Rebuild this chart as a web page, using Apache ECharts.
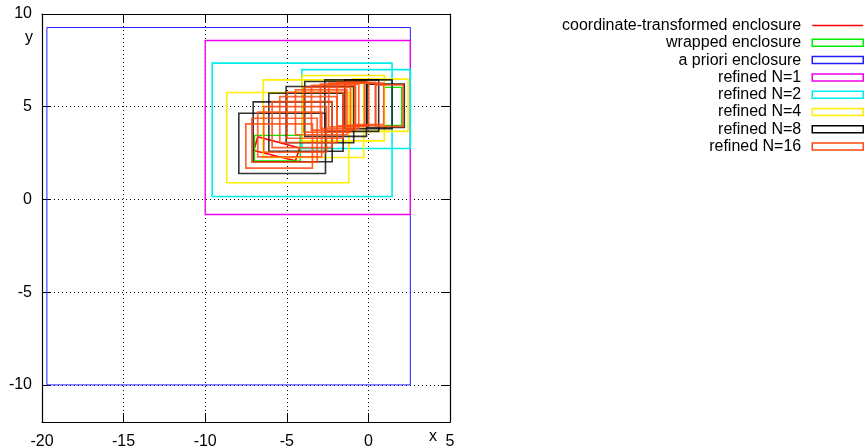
<!DOCTYPE html>
<html>
<head>
<meta charset="utf-8">
<script src="https://cdn.jsdelivr.net/npm/echarts@6/dist/echarts.min.js"></script>
<style>html,body{margin:0;padding:0;background:#fff}#c{width:865px;height:447px}</style>
</head>
<body>
<div id="c"></div>
<script>
const xTicks = [-20, -15, -10, -5, 0, 5];
const yTicks = [-10, -5, 0, 5, 10];
const seriesNames = ['coordinate-transformed enclosure', 'wrapped enclosure', 'a priori enclosure',
  'refined N=1', 'refined N=2', 'refined N=4', 'refined N=8', 'refined N=16'];
// polygon corners x1,y1,...,x4,y4
const transformedQuads = [[-6.78, 3.38, -4.21, 2.77, -4.47, 2.09, -7.02, 2.64]];
// boxes: xmin, ymin, xmax, ymax
const wrappedBoxes = [[-6.98, 2.08, -4.18, 3.45], [0.98, 3.99, 2.04, 6.04]];
const aprioriBoxes = [[-19.7, -10, 2.57, 9.27]];
const refined1 = [[-10, -0.81, 2.57, 8.57]];
const refined2 = [[-9.57, 0.16, 1.45, 7.35], [-4.08, 2.75, 2.57, 7.0]];
const refined4 = [[-8.68, 0.9, -1.2, 5.77], [-6.45, 2.26, -0.29, 6.45], [-4.06, 3.16, 0.98, 6.68], [-1.0, 3.67, 2.43, 6.49]];
const refined8 = [[-7.94, 1.40, -2.63, 4.65], [-7.06, 2.03, -2.22, 5.26], [-6.1, 2.6, -1.55, 5.73], [-5.04, 3.06, -0.9, 6.09],
  [-3.9, 3.40, -0.12, 6.36], [-2.67, 3.67, 0.63, 6.45], [-1.45, 3.81, 1.45, 6.45], [-0.08, 3.88, 2.2, 6.22]];
const refined16 = [[-7.51, 1.69, -3.43, 4.08], [-7.14, 2.01, -3.14, 4.38], [-6.78, 2.30, -2.86, 4.71], [-6.41, 2.55, -2.57, 5.01],
  [-5.90, 2.80, -2.22, 5.28], [-5.43, 3.07, -1.92, 5.55], [-4.98, 3.30, -1.55, 5.78], [-4.47, 3.49, -1.31, 5.91],
  [-3.96, 3.63, -1.10, 6.04], [-3.49, 3.74, -0.80, 6.15], [-2.94, 3.84, -0.59, 6.22], [-2.43, 3.92, -0.24, 6.27],
  [-1.92, 3.97, 0.02, 6.31], [-1.41, 3.99, 0.43, 6.32], [-0.80, 4.03, 0.94, 6.27], [0.45, 3.94, 2.12, 6.18]];

const colors = ['#ff0000', '#00ee00', '#2020ff', '#ee00ee', '#00eeee', '#ffee00', '#000000', '#ff4a10'];
const widths = [1.6, 1.3, 1, 1.3, 1.6, 1.6, 1.6, 1.7];
const FONT = 'Liberation Sans, Arial, Helvetica, sans-serif';
const FS = 16;

function boxSeries(name, data, color, lw, opacity) {
  return {
    type: 'custom', name: name, data: data, z: 3,
    encode: {x: [0, 2], y: [1, 3]},
    itemStyle: {color: color},
    renderItem: function (params, api) {
      const p1 = api.coord([api.value(0), api.value(1)]);
      const p2 = api.coord([api.value(2), api.value(3)]);
      return {
        type: 'rect',
        shape: {x: Math.min(p1[0], p2[0]), y: Math.min(p1[1], p2[1]),
          width: Math.abs(p2[0] - p1[0]), height: Math.abs(p2[1] - p1[1])},
        style: {fill: 'none', stroke: color, lineWidth: lw, opacity: opacity}
      };
    }
  };
}
function quadSeries(name, data, color, lw) {
  return {
    type: 'custom', name: name, data: data, z: 3,
    encode: {x: [0, 2, 4, 6], y: [1, 3, 5, 7]},
    itemStyle: {color: color},
    renderItem: function (params, api) {
      const pts = [];
      for (let i = 0; i < 4; i++) pts.push(api.coord([api.value(2 * i), api.value(2 * i + 1)]));
      return {type: 'polygon', shape: {points: pts}, style: {fill: 'none', stroke: color, lineWidth: lw}};
    }
  };
}

const boxData = [null, wrappedBoxes, aprioriBoxes, refined1, refined2, refined4, refined8, refined16];
const series = [quadSeries(seriesNames[0], transformedQuads, colors[0], widths[0])];
for (let i = 1; i < seriesNames.length; i++) {
  series.push(boxSeries(seriesNames[i], boxData[i], colors[i], widths[i], i === 7 ? 0.85 : (i === 6 ? 0.8 : 1)));
}

const legendData = seriesNames.map(function (n, i) {
  if (i === 0) return {name: n, icon: 'path://M0,0H100V3H0Z', itemStyle: {color: colors[0], borderColor: colors[0], borderWidth: 0}};
  return {name: n, icon: 'rect', itemStyle: {color: 'rgba(0,0,0,0)', borderColor: colors[i], borderWidth: 1.5}};
});

const gridBox = {left: 42, right: 415, top: 14, bottom: 25};
const chart = echarts.init(document.getElementById('c'), null, {renderer: 'canvas'});
chart.setOption({
  animation: false,
  backgroundColor: '#fff',
  textStyle: {fontFamily: FONT},
  grid: Object.assign({containLabel: false, outerBoundsMode: 'none'}, gridBox),
  legend: {
    orient: 'vertical', align: 'right', right: 1, top: 17.5, padding: 0,
    itemWidth: 51, itemHeight: 7, itemGap: 1.3,
    selectedMode: false,
    textStyle: {fontSize: FS, color: '#000', fontFamily: FONT, padding: [0, 6, 0, 0]},
    data: legendData
  },
  xAxis: [{
    type: 'value', min: -20, max: 5, position: 'bottom',
    axisLine: {show: true, onZero: false, lineStyle: {color: '#000', width: 1.2}},
    axisTick: {show: true, inside: true, length: 9, customValues: xTicks, lineStyle: {color: '#000'}},
    axisLabel: {customValues: xTicks, fontSize: FS, color: '#000', margin: 12, fontFamily: FONT},
    splitLine: {show: true, lineStyle: {color: '#000', type: [1, 3], width: 1}}
  }, {
    type: 'value', min: -20, max: 5, position: 'top',
    axisLine: {show: true, onZero: false, lineStyle: {color: '#000', width: 1.2}},
    axisTick: {show: true, inside: true, length: 9, customValues: xTicks, lineStyle: {color: '#000'}},
    axisLabel: {show: false}, splitLine: {show: false}
  }],
  yAxis: [{
    type: 'value', min: -12, max: 10, position: 'left',
    axisLine: {show: true, onZero: false, lineStyle: {color: '#000', width: 1.2}},
    axisTick: {show: true, inside: true, length: 9, customValues: yTicks, lineStyle: {color: '#000'}},
    axisLabel: {customValues: yTicks, fontSize: FS, color: '#000', margin: 10, fontFamily: FONT, padding: [3, 0, 0, 0]},
    splitLine: {show: true, lineStyle: {color: '#000', type: [1, 3], width: 1}}
  }, {
    type: 'value', min: -12, max: 10, position: 'right',
    axisLine: {show: true, onZero: false, lineStyle: {color: '#000', width: 1.2}},
    axisTick: {show: true, inside: true, length: 9, customValues: yTicks, lineStyle: {color: '#000'}},
    axisLabel: {show: false}, splitLine: {show: false}
  }],
  graphic: [
    {type: 'text', left: 429, top: 429, style: {text: 'x', fontSize: FS, fill: '#000', fontFamily: FONT}},
    {type: 'text', left: 25, top: 30, style: {text: 'y', fontSize: FS, fill: '#000', fontFamily: FONT}}
  ],
  series: series
});
</script>
</body>
</html>
